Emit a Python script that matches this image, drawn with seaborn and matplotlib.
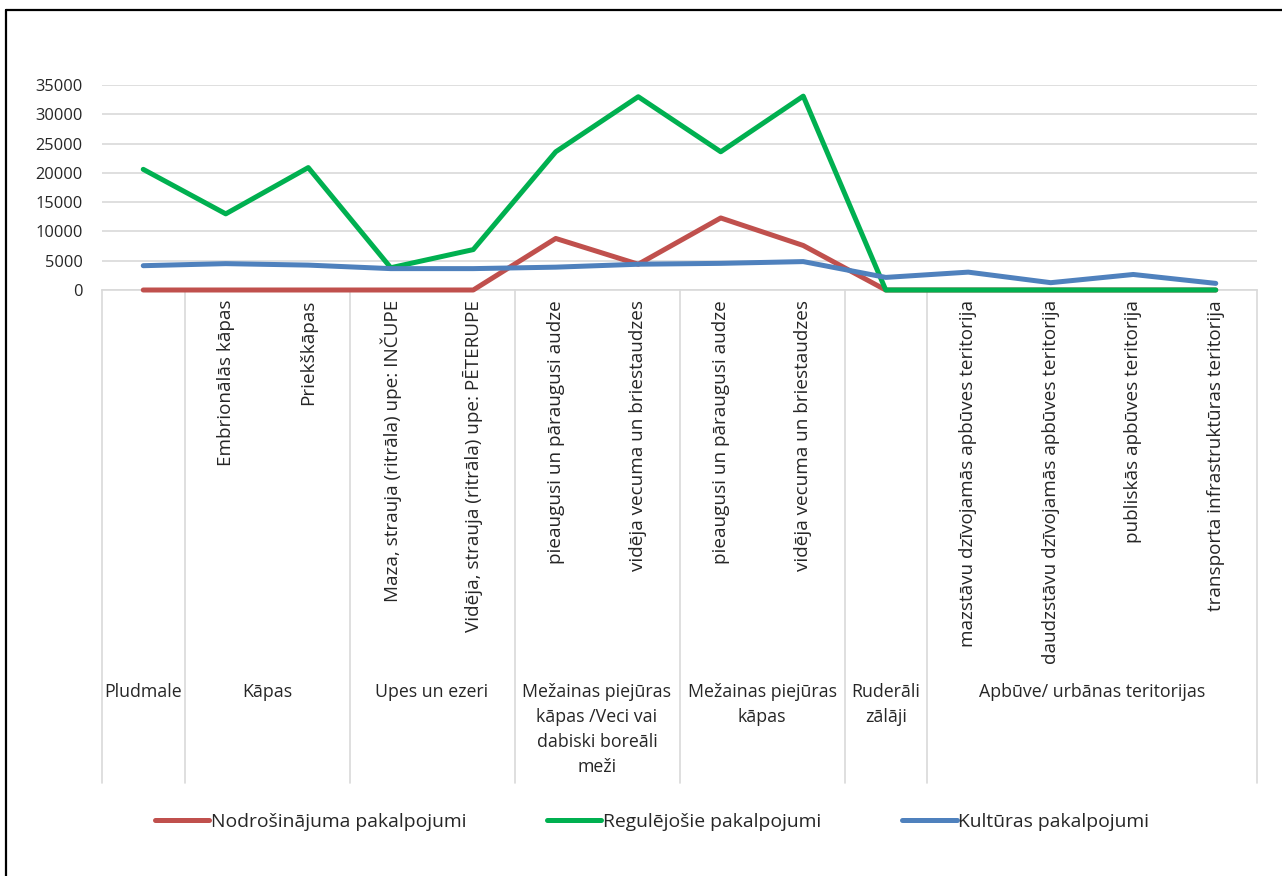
import numpy as np
import pandas as pd
import matplotlib
matplotlib.use("Agg")
import matplotlib.pyplot as plt
import matplotlib.transforms as mtransforms
from matplotlib.lines import Line2D
import seaborn as sns

# dati
sub_labels = ["", "Embrionālās kāpas", "Priekškāpas",
              "Maza, strauja (ritrāla) upe: INČUPE",
              "Vidēja, strauja (ritrāla) upe: PĒTERUPE",
              "pieaugusi un pāraugusi audze", "vidēja vecuma un briestaudzes",
              "pieaugusi un pāraugusi audze", "vidēja vecuma un briestaudzes",
              "", "mazstāvu dzīvojamās apbūves teritorija",
              "daudzstāvu dzīvojamās apbūves teritorija",
              "publiskās apbūves teritorija",
              "transporta infrastruktūras teritorija"]
group_labels = ["Pludmale", "Kāpas", "Upes un ezeri",
                "Mežainas piejūras\nkāpas /Veci vai\ndabiski boreāli\nmeži",
                "Mežainas piejūras\nkāpas", "Ruderāli\nzālāji",
                "Apbūve/ urbānas teritorijas"]
group_sizes = [1, 2, 2, 2, 2, 1, 4]

series_names = ["Nodrošinājuma pakalpojumi", "Regulējošie pakalpojumi", "Kultūras pakalpojumi"]
nodrosinajuma = [0, 0, 0, 0, 0, 8800, 4400, 12300, 7600, 0, 0, 0, 0, 0]
regulejosie = [20600, 13000, 20900, 3800, 6900, 23600, 33000, 23600, 33100, 0, 0, 0, 0, 0]
kulturas = [4150, 4500, 4250, 3650, 3650, 3900, 4400, 4550, 4850, 2150, 3050, 1250, 2650, 1130]
colors = ["#C0504D", "#00B050", "#4F81BD"]

n = len(sub_labels)
df = pd.DataFrame({
    "pos": list(range(n)) * 3,
    "val": nodrosinajuma + regulejosie + kulturas,
    "serie": [series_names[0]] * n + [series_names[1]] * n + [series_names[2]] * n,
})

sns.set_style("white")
plt.rcParams['font.family'] = ['Open Sans', 'DejaVu Sans']
plt.rcParams['font.size'] = 11.5

W, H = 1282, 876
fig = plt.figure(figsize=(W / 100, H / 100), dpi=100)
x0, x1, y_top, y_bot = 102, 1257, 85, 290
ax = fig.add_axes([x0 / W, 1 - y_bot / H, (x1 - x0) / W, (y_bot - y_top) / H])

sns.lineplot(data=df, x="pos", y="val", hue="serie", palette=colors,
             linewidth=3.6, sort=False, ax=ax, legend=True)
for ln in ax.lines:
    ln.set_clip_on(False)
    ln.set_solid_capstyle("round")

ax.set_xlim(-0.5, n - 0.5)
ax.set_ylim(0, 35000)
ax.set_yticks(np.arange(0, 35001, 5000))
ax.set_yticklabels([str(v) for v in range(0, 35001, 5000)])
ax.yaxis.grid(True, color="#D9D9D9", linewidth=1.2)
ax.set_axisbelow(True)
ax.tick_params(axis="y", length=0, pad=14, labelsize=11.8)
ax.set_xticks([])
ax.set_xlabel("")
ax.set_ylabel("")
for s in ["top", "right", "left"]:
    ax.spines[s].set_visible(False)
ax.spines["bottom"].set_color("#D9D9D9")
ax.spines["bottom"].set_linewidth(1.2)
ax.spines["bottom"].set_zorder(0)

# daudzlīmeņu kategoriju ass
trans = mtransforms.blended_transform_factory(ax.transData, ax.transAxes)
ax_h = y_bot - y_top
bounds = np.concatenate([[0], np.cumsum(group_sizes)]) - 0.5
for b in bounds:
    ax.add_line(Line2D([b, b], [0, -(783 - y_bot) / ax_h], transform=trans,
                       color="#D9D9D9", linewidth=1.2, clip_on=False, zorder=0))

for i, lab in enumerate(sub_labels):
    if lab:
        ax.text(i, -(300 - y_bot) / ax_h, lab, transform=trans, rotation=90,
                ha="center", va="top", fontsize=13.6)

for g, lab in enumerate(group_labels):
    cx = (bounds[g] + bounds[g + 1]) / 2
    ax.text(cx, -(683 - y_bot) / ax_h, lab, transform=trans, ha="center",
            va="top", fontsize=12.8, linespacing=1.5, multialignment="center")

# leģenda
handles, labels = ax.get_legend_handles_labels()
ax.get_legend().remove()
fig.legend(handles, labels, loc="center", bbox_to_anchor=(652 / W, 1 - 822 / H),
           ncol=3, frameon=False, handlelength=2.8, handletextpad=0.1,
           columnspacing=4.2, fontsize=13.9)

# rāmis
fig.add_artist(Line2D([6 / W, 6 / W], [0, 1 - 10 / H], transform=fig.transFigure,
                      color="black", linewidth=1.6))
fig.add_artist(Line2D([6 / W, 1], [1 - 10 / H, 1 - 10 / H], transform=fig.transFigure,
                      color="black", linewidth=1.6))

plt.savefig("out.png", dpi=100)
